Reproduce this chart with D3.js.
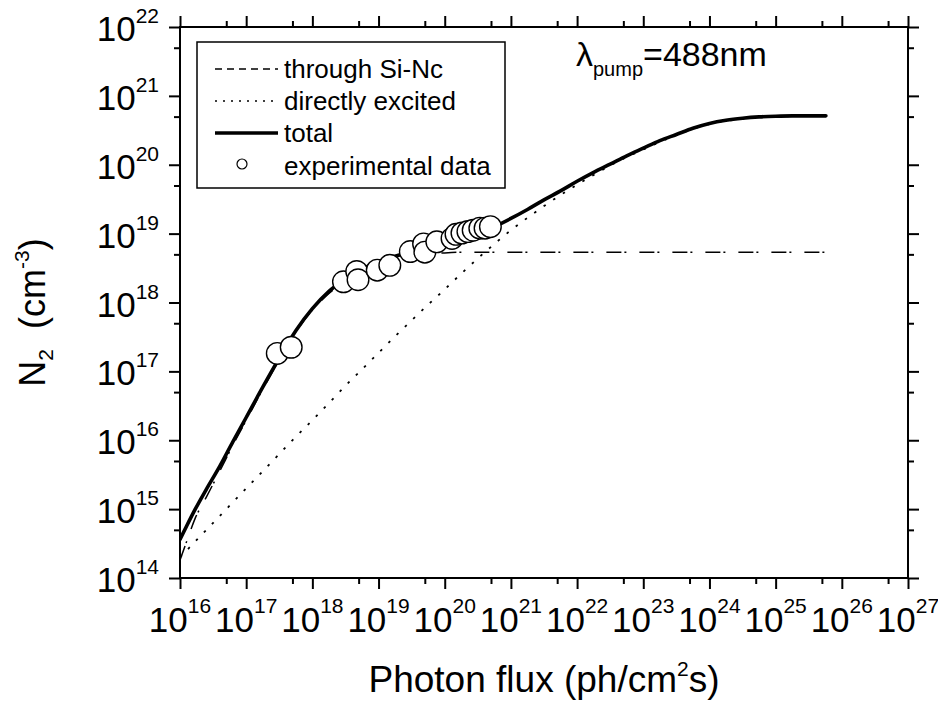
<!DOCTYPE html>
<html>
<head>
<meta charset="utf-8">
<script src="https://cdn.jsdelivr.net/npm/d3@7"></script>
<style>
body { margin: 0; background: #fff; }
text { font-family: "Liberation Sans", Arial, sans-serif; fill: #000; }
</style>
</head>
<body>
<div id="vis"></div>
<script>
// photon flux grid for the model curves (ph/cm^2 s)
const flux = [1e16, 1.26e16, 1.7e16, 2.51e16, 3.98e16, 6.31e16,
    1e17, 1.78e17, 3.16e17, 5.62e17, 1e18, 1.78e18, 3.16e18, 5.62e18,
    1e19, 1.78e19, 3.16e19, 5.62e19, 1e20, 1.78e20, 3.16e20, 5.62e20,
    1e21, 1.78e21, 3.16e21, 5.62e21, 1e22, 1.78e22, 3.16e22, 5.62e22,
    1e23, 1.78e23, 3.16e23, 5.62e23, 1e24, 1.78e24, 3.16e24, 5.62e24,
    1e25, 1.78e25, 3.16e25, 5.75e25]

const nThroughSiNc = [1.82e14, 3.39e14, 7.41e14, 1.51e15, 3.55e15, 8.51e15,
    1.95e16, 5.5e16, 1.48e17, 3.72e17, 7.76e17, 1.35e18, 2.04e18, 2.82e18,
    3.55e18, 4.17e18, 4.68e18, 5.01e18, 5.25e18, 5.37e18, 5.37e18, 5.37e18,
    5.37e18, 5.37e18, 5.37e18, 5.37e18, 5.37e18, 5.37e18, 5.37e18, 5.37e18,
    5.37e18, 5.37e18, 5.37e18, 5.37e18, 5.37e18, 5.37e18, 5.37e18, 5.37e18,
    5.37e18, 5.37e18, 5.37e18, 5.37e18]

const nDirect = [2.0e14, 2.51e14, 3.39e14, 5.01e14, 7.94e14, 1.26e15,
    2.0e15, 3.55e15, 6.31e15, 1.12e16, 1.95e16, 3.47e16, 6.17e16, 1.07e17,
    1.86e17, 3.24e17, 5.5e17, 9.33e17, 1.55e18, 2.63e18, 4.37e18, 7.08e18,
    1.12e19, 1.7e19, 2.51e19, 3.63e19, 5.13e19, 7.08e19, 9.77e19, 1.29e20,
    1.66e20, 2.14e20, 2.69e20, 3.31e20, 3.89e20, 4.32e20, 4.62e20, 4.9e20,
    5.01e20, 5.07e20, 5.07e20, 5.07e20]

const nTotal = [3.63e14, 5.7e14, 1.0e15, 1.95e15, 4.17e15, 9.55e15,
    2.14e16, 5.89e16, 1.55e17, 3.89e17, 8.13e17, 1.45e18, 2.19e18, 3.09e18,
    3.89e18, 4.68e18, 5.5e18, 6.31e18, 7.24e18, 8.32e18, 1.0e19, 1.26e19,
    1.66e19, 2.24e19, 3.09e19, 4.17e19, 5.75e19, 7.76e19, 1.02e20, 1.35e20,
    1.74e20, 2.24e20, 2.75e20, 3.39e20, 3.98e20, 4.42e20, 4.73e20, 4.95e20,
    5.07e20, 5.13e20, 5.13e20, 5.13e20]

// experimental data
const expFlux = [2.95e17, 4.79e17, 2.95e18, 4.68e18, 4.9e18, 9.55e18, 1.48e19,
    3.02e19, 4.79e19, 5.01e19, 7.59e19, 1.29e20, 1.48e20, 1.82e20, 2.24e20,
    2.69e20, 3.39e20, 4.07e20, 4.9e20]
const expN = [1.82e17, 2.24e17, 2.0e18, 2.82e18, 2.14e18, 2.95e18, 3.47e18,
    5.5e18, 7.08e18, 5.37e18, 7.59e18, 8.51e18, 9.77e18, 1.02e19, 1.07e19,
    1.12e19, 1.2e19, 1.2e19, 1.26e19]

const xTickExp = [16, 17, 18, 19, 20, 21, 22, 23, 24, 25, 26, 27]
const yTickExp = [14, 15, 16, 17, 18, 19, 20, 21, 22]

const legendItems = ["through Si-Nc", "directly excited", "total", "experimental data"]

const W = 938, H = 707
const plot = {left: 180, right: 908, top: 27, bottom: 578}

const svg = d3.select('#vis')
    .append('svg')
    .attr('width', W)
    .attr('height', H)

const x = d3.scaleLog().domain([1e16, 1e27]).range([plot.left, plot.right])
const y = d3.scaleLog().domain([1e14, 1e22]).range([plot.bottom, plot.top])

const xMajor = xTickExp.map(e => Math.pow(10, e))
const yMajor = yTickExp.map(e => Math.pow(10, e))
const xMinor = xTickExp.slice(0, -1).map(e => 5 * Math.pow(10, e))
const yMinor = yTickExp.slice(0, -1).map(e => 5 * Math.pow(10, e))

function tickAxis(axisFn, scale, values, size, transform) {
    const g = svg.append('g')
        .attr('transform', transform)
        .call(axisFn(scale).tickValues(values).tickSize(size).tickFormat(''))
    g.select('.domain').remove()
    g.selectAll('line').attr('stroke', '#000').attr('stroke-width', 2)
}

tickAxis(d3.axisBottom, x, xMajor, 11, `translate(0,${plot.bottom})`)
tickAxis(d3.axisBottom, x, xMinor, 6, `translate(0,${plot.bottom})`)
tickAxis(d3.axisTop, x, xMajor, 11, `translate(0,${plot.top})`)
tickAxis(d3.axisTop, x, xMinor, 6, `translate(0,${plot.top})`)
tickAxis(d3.axisLeft, y, yMajor, 11, `translate(${plot.left},0)`)
tickAxis(d3.axisLeft, y, yMinor, 6, `translate(${plot.left},0)`)
tickAxis(d3.axisRight, y, yMajor, 11, `translate(${plot.right},0)`)
tickAxis(d3.axisRight, y, yMinor, 6, `translate(${plot.right},0)`)

// tick labels, 10 with superscript exponent
const xLabels = svg.append('g')
xTickExp.forEach(e => {
    const t = xLabels.append('text')
        .attr('x', x(Math.pow(10, e)))
        .attr('y', plot.bottom + 54)
        .attr('text-anchor', 'middle')
    t.append('tspan').style('font-size', '35px').text('10')
    t.append('tspan').style('font-size', '21px').attr('dy', -19).text(e)
})

const yLabels = svg.append('g')
yTickExp.forEach(e => {
    const t = yLabels.append('text')
        .attr('x', plot.left - 21)
        .attr('y', y(Math.pow(10, e)) + 14)
        .attr('text-anchor', 'end')
    t.append('tspan').style('font-size', '35px').text('10')
    t.append('tspan').style('font-size', '21px').attr('dy', -18).text(e)
})

// axis titles
const xTitle = svg.append('text')
    .attr('x', (plot.left + plot.right) / 2)
    .attr('y', 692)
    .attr('text-anchor', 'middle')
    .style('font-size', '37px')
xTitle.append('tspan').text('Photon flux (ph/cm')
xTitle.append('tspan').style('font-size', '21px').attr('dy', -16).text('2')
xTitle.append('tspan').attr('dy', 16).text('s)')

const yTitle = svg.append('text')
    .attr('transform', `translate(45,${(plot.top + plot.bottom) / 2 + 10}) rotate(-90)`)
    .attr('text-anchor', 'middle')
    .style('font-size', '36px')
yTitle.append('tspan').text('N')
yTitle.append('tspan').style('font-size', '21px').attr('dy', 8).text('2')
yTitle.append('tspan').attr('dy', -8).text('\u00a0 (cm')
yTitle.append('tspan').style('font-size', '21px').attr('dy', -16).text('-3')
yTitle.append('tspan').attr('dy', 16).text(')')

// curves
svg.append('clipPath').attr('id', 'clip')
    .append('rect')
    .attr('x', plot.left).attr('y', plot.top)
    .attr('width', plot.right - plot.left).attr('height', plot.bottom - plot.top)

const plotArea = svg.append('g').attr('clip-path', 'url(#clip)')

function curve(values) {
    return d3.line()
        .x((d, i) => x(flux[i]))
        .y(d => y(d))
        .curve(d3.curveMonotoneX)(values)
}

plotArea.append('path')
    .attr('d', curve(nThroughSiNc))
    .attr('fill', 'none')
    .attr('stroke', '#000')
    .attr('stroke-width', 1.5)
    .attr('stroke-dasharray', '15,3,2,13')

plotArea.append('path')
    .attr('d', curve(nDirect))
    .attr('fill', 'none')
    .attr('stroke', '#000')
    .attr('stroke-width', 1.8)
    .attr('stroke-dasharray', '2.5,9')

plotArea.append('path')
    .attr('d', curve(nTotal))
    .attr('fill', 'none')
    .attr('stroke', '#000')
    .attr('stroke-width', 3.6)
    .attr('stroke-linecap', 'round')

plotArea.selectAll('circle.exp')
    .data(expFlux)
    .join('circle')
    .attr('class', 'exp')
    .attr('cx', d => x(d))
    .attr('cy', (d, i) => y(expN[i]))
    .attr('r', 10.8)
    .attr('fill', '#fff')
    .attr('stroke', '#000')
    .attr('stroke-width', 1.4)

// frame
svg.append('rect')
    .attr('x', plot.left).attr('y', plot.top)
    .attr('width', plot.right - plot.left).attr('height', plot.bottom - plot.top)
    .attr('fill', 'none')
    .attr('stroke', '#000')
    .attr('stroke-width', 2)

// legend
const legend = svg.append('g')
legend.append('rect')
    .attr('x', 197).attr('y', 42)
    .attr('width', 308).attr('height', 146)
    .attr('fill', '#fff')
    .attr('stroke', '#000')
    .attr('stroke-width', 1.5)

const rowY = [78, 110, 142, 175]
const sampleStyles = [
    {dash: '7,5', width: 1.5},
    {dash: '2,6', width: 1.5},
    {dash: null, width: 3.6}
]
sampleStyles.forEach((s, i) => {
    legend.append('line')
        .attr('x1', 215).attr('x2', 278)
        .attr('y1', rowY[i] - 9).attr('y2', rowY[i] - 9)
        .attr('stroke', '#000')
        .attr('stroke-width', s.width)
        .attr('stroke-dasharray', s.dash)
})
legend.append('circle')
    .attr('cx', 242).attr('cy', rowY[3] - 11)
    .attr('r', 5)
    .attr('fill', '#fff')
    .attr('stroke', '#000')
    .attr('stroke-width', 1.2)

legend.selectAll('text.item')
    .data(legendItems)
    .join('text')
    .attr('class', 'item')
    .attr('x', 284)
    .attr('y', (d, i) => rowY[i])
    .style('font-size', '26px')
    .text(d => d)

// pump wavelength note
const note = svg.append('text')
    .attr('x', 576)
    .attr('y', 66)
    .style('font-size', '34px')
note.append('tspan').text('\u03bb')
note.append('tspan').style('font-size', '20px').attr('dy', 10).text('pump')
note.append('tspan').attr('dy', -10).text('=488nm')
</script>
</body>
</html>
